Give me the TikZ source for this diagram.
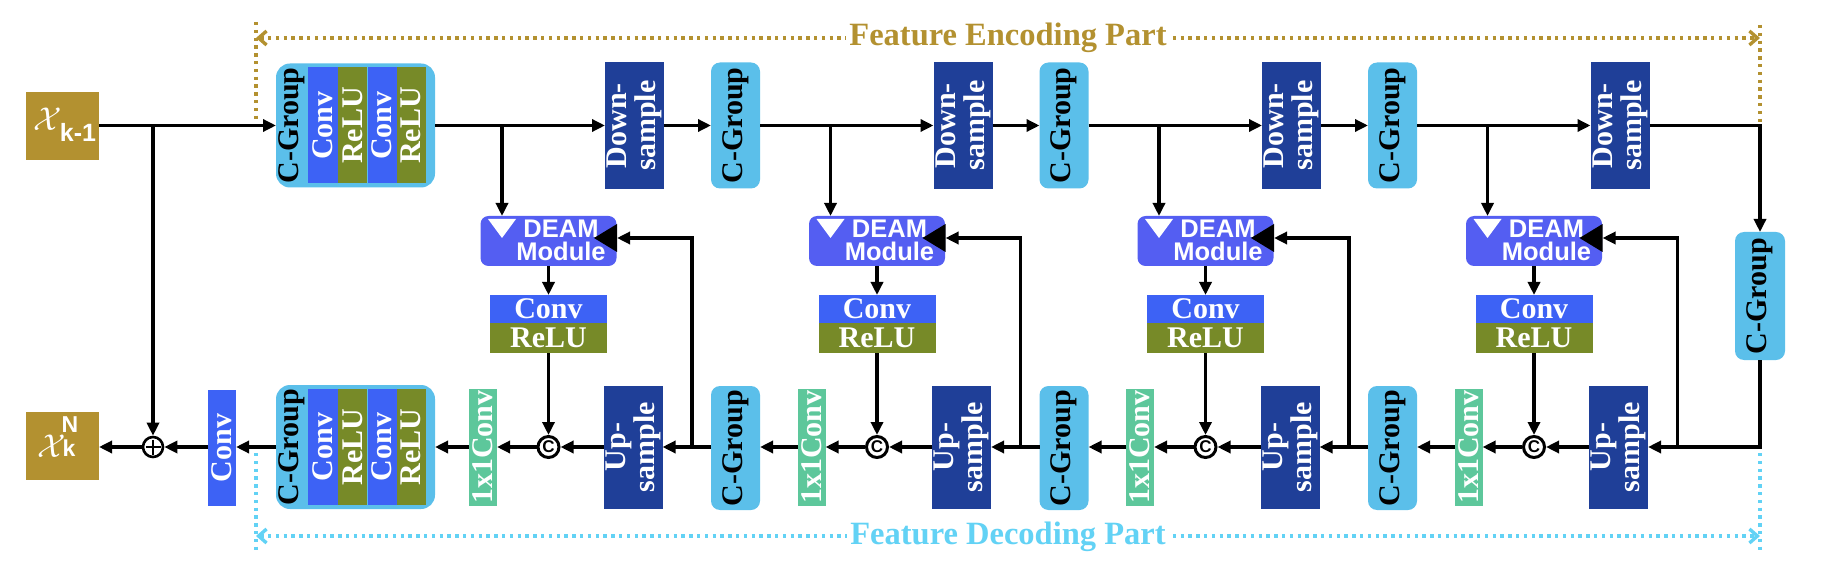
\documentclass[tikz,border=0pt]{standalone}
\usepackage{fontspec}
\setmainfont{Liberation Serif}
\setsansfont{Liberation Sans}
\usepackage{graphicx}
\usetikzlibrary{arrows.meta,calc}
\definecolor{goldc}{HTML}{B39130}
\definecolor{cgblue}{HTML}{5BBFEA}
\definecolor{convblue}{HTML}{3D62F5}
\definecolor{reluolive}{HTML}{778A28}
\definecolor{navyc}{HTML}{1F3F98}
\definecolor{deamblue}{HTML}{545EF2}
\definecolor{mintc}{HTML}{5DC79B}
\definecolor{decyan}{HTML}{62D2F5}
\tikzset{
 blk/.style={inner sep=0pt, outer sep=0pt, draw=none},
 cgbox/.style={blk, fill=cgblue, rounded corners=9pt},
 navybox/.style={blk, fill=navyc, minimum width=59pt},
 convstrip/.style={blk, fill=convblue},
 relustrip/.style={blk, fill=reluolive},
 onebox/.style={blk, fill=mintc, minimum width=28pt, minimum height=117pt},
 deambox/.style={blk, fill=deamblue, rounded corners=8pt, minimum width=136pt, minimum height=50pt},
 xbox/.style={blk, fill=goldc, minimum width=73pt, minimum height=68pt},
 sertxt/.style={font=\bfseries\fontsize{30}{29}\selectfont, inner sep=0pt},
 vtxt/.style={sertxt, rotate=90, align=center},
 wtxt/.style={vtxt, text=white},
 btxt/.style={vtxt, text=black},
 deamtxt/.style={text=white, font=\sffamily\bfseries\fontsize{25.5}{23}\selectfont, align=center, inner sep=0pt},
 conn/.style={line width=3.3pt, draw=black},
 arr/.style={conn, -{Triangle[length=13pt,width=12pt]}},
 encdot/.style={draw=goldc, line width=3.4pt, dash pattern=on 3.4pt off 4.4pt},
 decdot/.style={draw=decyan, line width=3.4pt, dash pattern=on 3.4pt off 4.4pt},
 barbs/.style={{Straight Barb[length=8pt,width=14pt]}-{Straight Barb[length=8pt,width=14pt]}},
 cat/.style={circle, draw, line width=3pt, minimum size=21pt, inner sep=0pt, font=\sffamily\bfseries\fontsize{17}{17}\selectfont},
}
\begin{document}
\begin{tikzpicture}[x=1pt,y=-1pt]
\useasboundingbox (0,0) rectangle (1825,585);

% ---------- input / output ----------
\node[xbox] (xin) at (62.5,126.5) {};
\node[text=white, inner sep=0pt] (xinX) at (48,119) {\scalebox{3.3}{$\mathcal{X}$}};
\node[text=white, inner sep=0pt, font=\sffamily\bfseries\fontsize{25}{25}\selectfont] (xinS) at (78,132) {k-1};

\node[xbox] (xout) at (62.5,446) {};
\node[text=white, inner sep=0pt] (xoutX) at (52,446) {\scalebox{3.3}{$\mathcal{X}$}};
\node[text=white, inner sep=0pt, font=\sffamily\bfseries\fontsize{23}{23}\selectfont] (xoutN) at (70,425) {N};
\node[text=white, inner sep=0pt, font=\sffamily\bfseries\fontsize{23}{23}\selectfont] (xoutk) at (69,448) {k};

% ---------- big C-Group blocks ----------
\node[cgbox, rounded corners=14pt, minimum width=159pt, minimum height=124pt] (bigT) at (355.5,125.5) {};
\node[btxt] (bigTl) at (292,125.5) {C-Group};
\node[convstrip, minimum width=30pt, minimum height=116pt] (bigTa) at (323,125.5) {};
\node[wtxt] (bigTat) at (bigTa) {Conv};
\node[relustrip, minimum width=29.5pt, minimum height=116pt] (bigTb) at (352.7,125.5) {};
\node[wtxt] (bigTbt) at (bigTb) {ReLU};
\node[convstrip, minimum width=29pt, minimum height=116pt] (bigTc) at (382,125.5) {};
\node[wtxt] (bigTct) at (bigTc) {Conv};
\node[relustrip, minimum width=29pt, minimum height=116pt] (bigTd) at (411,125.5) {};
\node[wtxt] (bigTdt) at (bigTd) {ReLU};

\node[cgbox, rounded corners=14pt, minimum width=159pt, minimum height=124pt] (bigB) at (355.5,447) {};
\node[btxt] (bigBl) at (292,447) {C-Group};
\node[convstrip, minimum width=30pt, minimum height=116pt] (bigBa) at (323,447) {};
\node[wtxt] (bigBat) at (bigBa) {Conv};
\node[relustrip, minimum width=29.5pt, minimum height=116pt] (bigBb) at (352.7,447) {};
\node[wtxt] (bigBbt) at (bigBb) {ReLU};
\node[convstrip, minimum width=29pt, minimum height=116pt] (bigBc) at (382,447) {};
\node[wtxt] (bigBct) at (bigBc) {Conv};
\node[relustrip, minimum width=29pt, minimum height=116pt] (bigBd) at (411,447) {};
\node[wtxt] (bigBdt) at (bigBd) {ReLU};

% output conv and sum
\node[convstrip, minimum width=28pt, minimum height=116pt] (convB) at (222,448) {};
\node[wtxt] (convBt) at (convB) {Conv};
\node[circle, draw, line width=2.6pt, minimum size=20pt, inner sep=0pt] (sum) at (153,447) {};
\draw[line width=2.3pt] ($(sum.center)+(-7.5,0)$) -- ($(sum.center)+(7.5,0)$);
\draw[line width=2.3pt] ($(sum.center)+(0,-7.5)$) -- ($(sum.center)+(0,7.5)$);

% bottleneck C-Group
\node[cgbox, minimum width=50pt, minimum height=128pt] (cg5) at (1760,296) {};
\node[btxt] (cg5t) at (cg5) {C-Group};

% ---------- stages ----------
\foreach \i in {0,1,2,3} {
  \pgfmathsetmacro{\dx}{328.5*\i}
  % encoder down-sample
  \node[navybox, minimum height=127pt] (dn\i) at ({634.5+\dx},125.5) {};
  \node[wtxt] (dnt\i) at (dn\i) {Down-\\sample};
  % decoder up-sample
  \node[navybox, minimum height=123pt] (up\i) at ({633+\dx},447) {};
  \node[wtxt] (upt\i) at (up\i) {Up-\\sample};
  % DEAM
  \node[deambox] (deam\i) at ({548.5+\dx},241) {};
  \fill[white] ({488+\dx},219) -- ({516+\dx},219) -- ({502+\dx},238) -- cycle;
  \node[deamtxt] (deamt\i) at ({561+\dx},240) {DEAM\\Module};
  \fill[black] ({617+\dx},224) -- ({617+\dx},252) -- ({594+\dx},238) -- cycle;
  % conv / relu
  \node[convstrip, minimum width=117pt, minimum height=28pt] (hc\i) at ({548.5+\dx},309) {};
  \node[sertxt, text=white] (hct\i) at (hc\i) {Conv};
  \node[relustrip, minimum width=117pt, minimum height=30pt] (hr\i) at ({548.5+\dx},338) {};
  \node[sertxt, text=white] (hrt\i) at (hr\i) {ReLU};
  % concat
  \node[cat] (cc\i) at ({548.5+\dx},447) {C};
  % 1x1 conv
  \node[onebox] (one\i) at ({483+\dx},447) {};
  \node[wtxt] (onet\i) at (one\i) {1x1Conv};
  % junction coordinates
  \coordinate (br\i) at ({502+\dx},125.5);
  \coordinate (fb\i) at ({692+\dx},447);
  \coordinate (fbin\i) at ({617+\dx},238);
}
\foreach \i in {0,1,2} {
  \pgfmathsetmacro{\dx}{328.5*\i}
  \node[cgbox, minimum width=49pt, minimum height=126pt] (cgt\i) at ({735.5+\dx},125.5) {};
  \node[btxt] (cgtt\i) at (cgt\i) {C-Group};
  \node[cgbox, minimum width=49pt, minimum height=124pt] (cgb\i) at ({735.5+\dx},448) {};
  \node[btxt] (cgbt\i) at (cgb\i) {C-Group};
}

% ---------- connectors ----------
\coordinate (jx) at (153,125.5);
\draw[arr] (xin.east |- bigT.west) -- (bigT.west);
\draw[arr] (jx) -- (sum.north);
\draw[arr] (bigT.east) -- (dn0.west);
\foreach \i in {0,1,2} {
  \draw[arr] (dn\i.east) -- (cgt\i.west);
}
\foreach \i/\j in {0/1,1/2,2/3} {
  \draw[arr] (cgt\i.east) -- (dn\j.west);
}
\draw[arr] (dn3.east) -| (cg5.north);
\draw[arr] (cg5.south) |- (up3.east);

\foreach \i in {0,1,2,3} {
  \draw[arr] (br\i) -- (br\i |- deam\i.north);
  \draw[arr] (deam\i.south) -- (hc\i.north);
  \draw[arr] (hr\i.south) -- (cc\i.north);
  \draw[arr] (fb\i) |- (fbin\i);
  \draw[arr] (up\i.west) -- (cc\i.east);
  \draw[arr] (cc\i.west) -- (one\i.east);
}
\foreach \i in {0,1,2} {
  \draw[arr] (cgb\i.west |- up\i.east) -- (up\i.east);
}
\foreach \i/\j in {1/0,2/1,3/2} {
  \draw[arr] (one\i.west) -- (one\i.west -| cgb\j.east);
}
\draw[arr] (one0.west) -- (bigB.east);
\draw[arr] (bigB.west) -- (bigB.west -| convB.east);
\draw[arr] (convB.west |- sum.east) -- (sum.east);
\draw[arr] (sum.west) -- (sum.west -| xout.east);

% ---------- encoding / decoding brackets ----------
\coordinate (encTL) at (256,22);
\coordinate (encBL) at (256,123);
\coordinate (encTR) at (1760,25);
\coordinate (encBR) at (1760,123);
\coordinate (encL) at (256,38);
\coordinate (encR) at (1760,38);
\draw[encdot] (encTL) -- (encBL);
\draw[encdot] (encTR) -- (encBR);
\draw[encdot, barbs] (encL) -- (encR);
\node[fill=white, inner sep=3pt, text=goldc, font=\bfseries\fontsize{32.5}{32}\selectfont] (enct) at (1008,38) {Feature Encoding Part};

\coordinate (decTL) at (256,453);
\coordinate (decBL) at (256,553);
\coordinate (decTR) at (1760,453);
\coordinate (decBR) at (1760,553);
\coordinate (decL) at (256,536);
\coordinate (decR) at (1760,536);
\draw[decdot] (decTL) -- (decBL);
\draw[decdot] (decTR) -- (decBR);
\draw[decdot, barbs] (decL) -- (decR);
\node[fill=white, inner sep=3pt, text=decyan, font=\bfseries\fontsize{32.5}{32}\selectfont] (dect) at (1008,537) {Feature Decoding Part};
\end{tikzpicture}
\end{document}
